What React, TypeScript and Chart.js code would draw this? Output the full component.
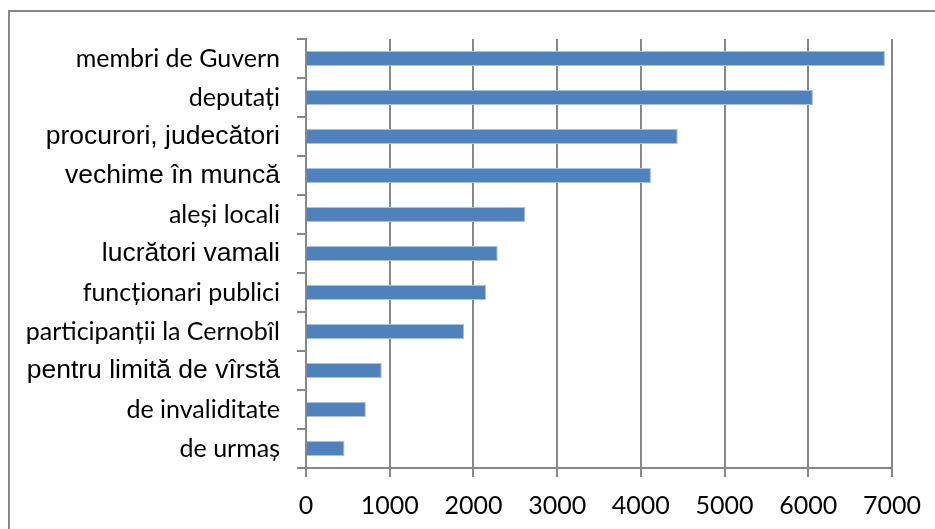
import React, { useEffect, useRef } from "react";
import { Chart, registerables } from "chart.js";

Chart.register(...registerables);

// ---- data ----
const categories: string[] = [
  "membri de Guvern",
  "deputați",
  "procurori, judecători",
  "vechime în muncă",
  "aleși locali",
  "lucrători vamali",
  "funcționari publici",
  "participanții la Cernobîl",
  "pentru limită de vîrstă",
  "de invaliditate",
  "de urmaș",
];
const values: number[] = [6915, 6055, 4440, 4120, 2620, 2290, 2150, 1890, 905, 715, 460];
const xTickValues: number[] = [0, 1000, 2000, 3000, 4000, 5000, 6000, 7000];

// ---- style ----
const arialCategories = new Set<string>([
  "procurori, judecători",
  "vechime în muncă",
  "lucrători vamali",
  "pentru limită de vîrstă",
]);
const GRID = "#878787";
const BAR = "#4F81BD";

export default function App() {
  const ref = useRef<HTMLCanvasElement>(null);

  useEffect(() => {
    if (!ref.current) return;
    const chart = new Chart(ref.current, {
      type: "bar",
      data: {
        labels: categories,
        datasets: [
          {
            data: values,
            backgroundColor: BAR,
            borderColor: "#A9C0DF",
            borderWidth: 1,
            barPercentage: 0.385,
            categoryPercentage: 1,
          },
        ],
      },
      options: {
        indexAxis: "y",
        responsive: false,
        animation: false,
        devicePixelRatio: 1,
        layout: { padding: { top: 39, right: 42, left: 0, bottom: 0 } },
        plugins: { legend: { display: false }, tooltip: { enabled: false } },
        scales: {
          x: {
            min: xTickValues[0],
            max: xTickValues[xTickValues.length - 1],
            afterBuildTicks: (s: any) => {
              s.ticks = xTickValues.map((v) => ({ value: v }));
            },
            ticks: {
              color: "#000",
              font: { family: "Lato", size: 25 },
              padding: 14,
              maxRotation: 0,
              callback: (v: any) => String(v),
            },
            grid: { color: GRID, lineWidth: 2, tickLength: 9, drawTicks: true },
            border: { display: true, color: GRID, width: 2 },
            afterFit: (s: any) => {
              s.height = 61;
            },
          },
          y: {
            ticks: {
              color: "#000",
              autoSkip: false,
              padding: 17,
              font: (ctx: any) => {
                const label = categories[ctx.index];
                return arialCategories.has(label)
                  ? { family: "'Liberation Sans', Arial", size: 26.5 }
                  : { family: "Lato", size: 25 };
              },
            },
            grid: {
              drawOnChartArea: false,
              color: GRID,
              lineWidth: 2,
              tickLength: 9,
              offset: true,
            },
            border: { display: true, color: GRID, width: 2 },
            afterFit: (s: any) => {
              s.width = 306;
            },
          },
        },
      },
    } as any);
    return () => chart.destroy();
  }, []);

  return (
    <div
      style={{
        position: "fixed",
        left: 0,
        top: 0,
        width: 935,
        height: 529,
        overflow: "hidden",
        background: "#fff",
      }}
    >
      <div
        style={{
          position: "absolute",
          left: 8,
          top: 10,
          width: 1000,
          height: 1000,
          border: "2px solid #888",
          boxSizing: "border-box",
        }}
      />
      <canvas
        ref={ref}
        width={935}
        height={529}
        style={{ position: "absolute", left: 0, top: 0 }}
      />
    </div>
  );
}
